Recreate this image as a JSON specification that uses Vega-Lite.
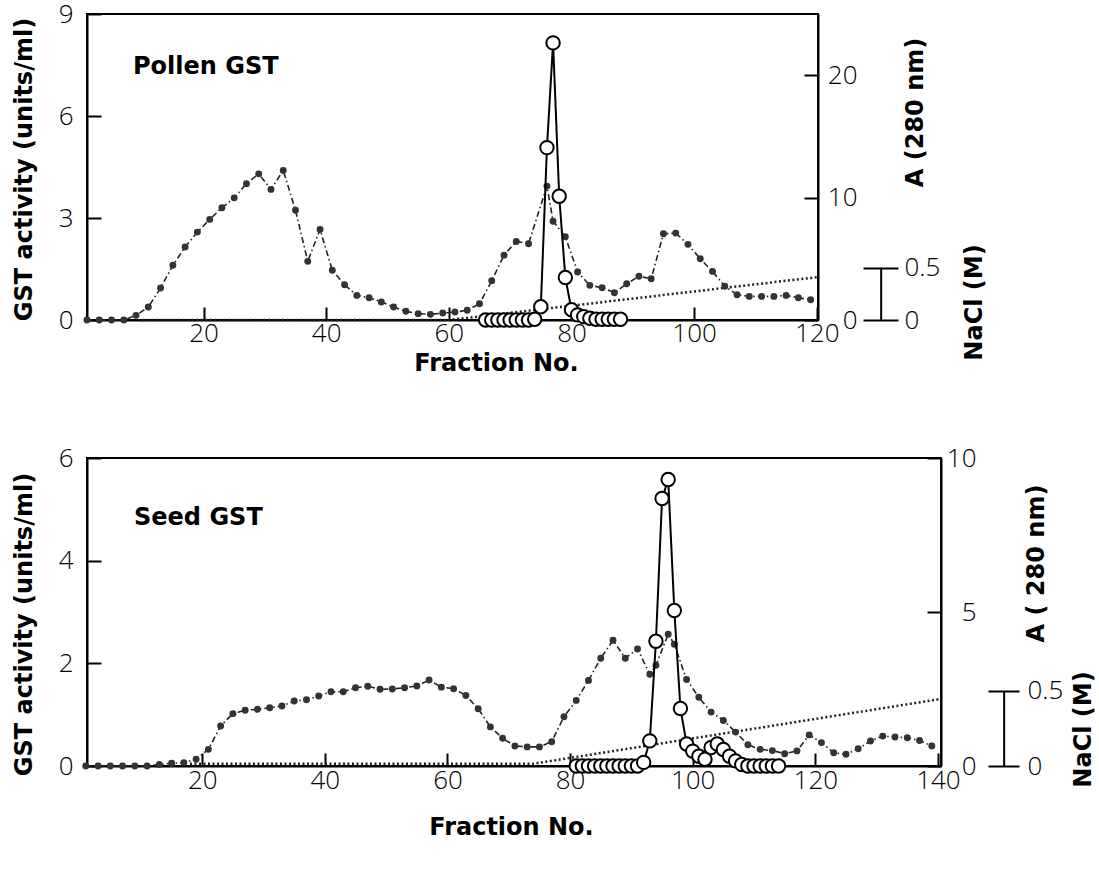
{
  "$schema": "https://vega.github.io/schema/vega-lite/v6.json",
  "background": "white",
  "padding": {"left": 10, "top": 0, "right": 0, "bottom": 0},
  "spacing": 68,
  "config": {
    "view": {"stroke": "black", "strokeWidth": 2},
    "axis": {
      "grid": false,
      "ticks": false,
      "domainColor": "black",
      "domainWidth": 2,
      "gridColor": "black",
      "gridWidth": 2,
      "gridOpacity": 1,
      "labelFont": "Open Sans",
      "labelFontWeight": 300,
      "labelFontSize": 26,
      "labelColor": "black",
      "labelFlush": false,
      "labelOverlap": false,
      "titleFont": "DejaVu Sans",
      "titleFontWeight": "bold",
      "titleFontSize": 24,
      "titleColor": "black"
    }
  },
  "datasets": {
    "pollen_a280": [
      {"fraction": 1, "a280": 0}, {"fraction": 3, "a280": 0}, {"fraction": 5, "a280": 0}, {"fraction": 7, "a280": 0},
      {"fraction": 9, "a280": 0.38}, {"fraction": 11, "a280": 1.06}, {"fraction": 13, "a280": 2.61}, {"fraction": 15, "a280": 4.47},
      {"fraction": 17, "a280": 5.96}, {"fraction": 19, "a280": 7.18}, {"fraction": 21, "a280": 8.22}, {"fraction": 23, "a280": 9.17},
      {"fraction": 25, "a280": 9.98}, {"fraction": 27, "a280": 11.13}, {"fraction": 29, "a280": 11.94}, {"fraction": 31, "a280": 10.67},
      {"fraction": 33, "a280": 12.22}, {"fraction": 35, "a280": 8.96}, {"fraction": 37, "a280": 4.79}, {"fraction": 39, "a280": 7.4},
      {"fraction": 41, "a280": 4.06}, {"fraction": 43, "a280": 2.88}, {"fraction": 45, "a280": 2.01}, {"fraction": 47, "a280": 1.82},
      {"fraction": 49, "a280": 1.47}, {"fraction": 51, "a280": 1.06}, {"fraction": 53, "a280": 0.71}, {"fraction": 55, "a280": 0.52},
      {"fraction": 57, "a280": 0.46}, {"fraction": 59, "a280": 0.57}, {"fraction": 61, "a280": 0.65}, {"fraction": 63, "a280": 0.79},
      {"fraction": 65, "a280": 1.33}, {"fraction": 67, "a280": 3.2}, {"fraction": 69, "a280": 5.3}, {"fraction": 71, "a280": 6.42},
      {"fraction": 73, "a280": 6.23}, {"fraction": 76, "a280": 10.94}, {"fraction": 77, "a280": 8.07}, {"fraction": 79, "a280": 6.8},
      {"fraction": 81, "a280": 3.92}, {"fraction": 83, "a280": 2.83}, {"fraction": 85, "a280": 2.64}, {"fraction": 87, "a280": 2.23},
      {"fraction": 89, "a280": 2.96}, {"fraction": 91, "a280": 3.57}, {"fraction": 93, "a280": 3.37}, {"fraction": 95, "a280": 7.04},
      {"fraction": 97, "a280": 7.1}, {"fraction": 99, "a280": 6.18}, {"fraction": 101, "a280": 5.0}, {"fraction": 103, "a280": 3.97},
      {"fraction": 105, "a280": 2.75}, {"fraction": 107, "a280": 2.07}, {"fraction": 109, "a280": 1.93}, {"fraction": 111, "a280": 1.93},
      {"fraction": 113, "a280": 1.93}, {"fraction": 115, "a280": 2.01}, {"fraction": 117, "a280": 1.82}, {"fraction": 119, "a280": 1.66}
    ],
    "pollen_gst": [
      {"fraction": 66, "gst": 0}, {"fraction": 67, "gst": 0}, {"fraction": 68, "gst": 0}, {"fraction": 69, "gst": 0},
      {"fraction": 70, "gst": 0}, {"fraction": 71, "gst": 0}, {"fraction": 72, "gst": 0}, {"fraction": 73, "gst": 0},
      {"fraction": 74, "gst": 0.02}, {"fraction": 75, "gst": 0.39}, {"fraction": 76, "gst": 5.07}, {"fraction": 77, "gst": 8.15},
      {"fraction": 78, "gst": 3.64}, {"fraction": 79, "gst": 1.25}, {"fraction": 80, "gst": 0.3}, {"fraction": 81, "gst": 0.15},
      {"fraction": 82, "gst": 0.1}, {"fraction": 83, "gst": 0.05}, {"fraction": 84, "gst": 0.02}, {"fraction": 85, "gst": 0.02},
      {"fraction": 86, "gst": 0.02}, {"fraction": 87, "gst": 0.02}, {"fraction": 88, "gst": 0.02}
    ],
    "pollen_nacl": [
      {"fraction": 10, "nacl": 0}, {"fraction": 60, "nacl": 0}, {"fraction": 120.2, "nacl": 0.41}
    ],
    "seed_a280": [
      {"fraction": 1, "a280": 0}, {"fraction": 3, "a280": 0}, {"fraction": 5, "a280": 0}, {"fraction": 7, "a280": 0},
      {"fraction": 9, "a280": 0}, {"fraction": 11, "a280": 0}, {"fraction": 13, "a280": 0.05}, {"fraction": 15, "a280": 0.09},
      {"fraction": 17, "a280": 0.11}, {"fraction": 19, "a280": 0.22}, {"fraction": 21, "a280": 0.54}, {"fraction": 23, "a280": 1.3},
      {"fraction": 25, "a280": 1.7}, {"fraction": 27, "a280": 1.81}, {"fraction": 29, "a280": 1.84}, {"fraction": 31, "a280": 1.89},
      {"fraction": 33, "a280": 1.95}, {"fraction": 35, "a280": 2.11}, {"fraction": 37, "a280": 2.15}, {"fraction": 39, "a280": 2.27},
      {"fraction": 41, "a280": 2.41}, {"fraction": 43, "a280": 2.41}, {"fraction": 45, "a280": 2.54}, {"fraction": 47, "a280": 2.59},
      {"fraction": 49, "a280": 2.49}, {"fraction": 51, "a280": 2.5}, {"fraction": 53, "a280": 2.54}, {"fraction": 55, "a280": 2.6},
      {"fraction": 57, "a280": 2.79}, {"fraction": 59, "a280": 2.56}, {"fraction": 61, "a280": 2.51}, {"fraction": 63, "a280": 2.29},
      {"fraction": 65, "a280": 1.86}, {"fraction": 67, "a280": 1.27}, {"fraction": 69, "a280": 0.9}, {"fraction": 71, "a280": 0.65},
      {"fraction": 73, "a280": 0.62}, {"fraction": 75, "a280": 0.62}, {"fraction": 77, "a280": 0.79}, {"fraction": 79, "a280": 1.6},
      {"fraction": 81, "a280": 2.13}, {"fraction": 83, "a280": 2.78}, {"fraction": 85, "a280": 3.5}, {"fraction": 87, "a280": 4.08},
      {"fraction": 89, "a280": 3.5}, {"fraction": 91, "a280": 3.8}, {"fraction": 93, "a280": 2.98}, {"fraction": 94, "a280": 3.27},
      {"fraction": 96, "a280": 4.28}, {"fraction": 97, "a280": 3.95}, {"fraction": 99, "a280": 2.81}, {"fraction": 101, "a280": 2.23},
      {"fraction": 103, "a280": 1.75}, {"fraction": 105, "a280": 1.48}, {"fraction": 107, "a280": 1.1}, {"fraction": 109, "a280": 0.69},
      {"fraction": 111, "a280": 0.54}, {"fraction": 113, "a280": 0.5}, {"fraction": 115, "a280": 0.4}, {"fraction": 117, "a280": 0.49},
      {"fraction": 119, "a280": 1.01}, {"fraction": 121, "a280": 0.76}, {"fraction": 123, "a280": 0.43}, {"fraction": 125, "a280": 0.38},
      {"fraction": 127, "a280": 0.56}, {"fraction": 129, "a280": 0.81}, {"fraction": 131, "a280": 0.97}, {"fraction": 133, "a280": 0.94},
      {"fraction": 135, "a280": 0.92}, {"fraction": 137, "a280": 0.83}, {"fraction": 139, "a280": 0.65}
    ],
    "seed_gst": [
      {"fraction": 81, "gst": 0}, {"fraction": 82, "gst": 0}, {"fraction": 83, "gst": 0}, {"fraction": 84, "gst": 0},
      {"fraction": 85, "gst": 0}, {"fraction": 86, "gst": 0}, {"fraction": 87, "gst": 0}, {"fraction": 88, "gst": 0},
      {"fraction": 89, "gst": 0}, {"fraction": 90, "gst": 0}, {"fraction": 91, "gst": 0}, {"fraction": 92, "gst": 0.07},
      {"fraction": 93, "gst": 0.49}, {"fraction": 94, "gst": 2.43}, {"fraction": 95, "gst": 5.21}, {"fraction": 96, "gst": 5.58},
      {"fraction": 97, "gst": 3.03}, {"fraction": 98, "gst": 1.12}, {"fraction": 99, "gst": 0.43}, {"fraction": 100, "gst": 0.29},
      {"fraction": 101, "gst": 0.19}, {"fraction": 102, "gst": 0.13}, {"fraction": 103, "gst": 0.36}, {"fraction": 104, "gst": 0.43},
      {"fraction": 105, "gst": 0.32}, {"fraction": 106, "gst": 0.19}, {"fraction": 107, "gst": 0.1}, {"fraction": 108, "gst": 0.03},
      {"fraction": 109, "gst": 0}, {"fraction": 110, "gst": 0}, {"fraction": 111, "gst": 0}, {"fraction": 112, "gst": 0},
      {"fraction": 113, "gst": 0}, {"fraction": 114, "gst": 0}
    ],
    "seed_nacl": [
      {"fraction": 18, "nacl": 0.015}, {"fraction": 74, "nacl": 0.015}, {"fraction": 140.5, "nacl": 0.447}
    ]
  },
  "vconcat": [
    {
      "width": 731,
      "height": 306,
      "resolve": {"scale": {"y": "independent"}},
      "layer": [
        {
          "layer": [
            {
              "data": {"name": "pollen_nacl"},
              "mark": {"type": "line", "strokeDash": [2, 2.5], "strokeWidth": 2.5, "color": "#222"},
              "encoding": {
                "x": {"field": "fraction", "type": "quantitative", "scale": {"domain": [1, 120.2], "nice": false},
                  "axis": {"values": [20, 40, 60, 80, 100, 120], "grid": true, "gridDash": [0, 293, 13, 2000], "labelPadding": 0, "title": "Fraction No.", "titleX": 409, "titleY": 43, "titleAlign": "center", "titleBaseline": "middle"}},
                "y": {"field": "nacl", "type": "quantitative", "scale": {"domain": [0, 2.92], "nice": false},
                  "axis": {"orient": "right", "offset": 45, "values": [0, 0.5], "format": "~g", "ticks": true, "tickSize": 35, "tickColor": "black", "tickWidth": 2, "grid": false, "domain": false, "labelPadding": 6, "labelAlign": "left", "title": "NaCl (M)", "titleX": 111, "titleY": 288, "titleAngle": 270, "titleAlign": "center", "titleBaseline": "middle"}}
              }
            },
            {
              "data": {"values": [{}]},
              "mark": {"type": "rule", "strokeWidth": 2, "color": "black"},
              "encoding": {
                "x": {"datum": 130.5, "type": "quantitative", "scale": {"domain": [1, 120.2], "nice": false},
                  "axis": {"values": [20, 40, 60, 80, 100, 120], "grid": true, "gridDash": [0, 293, 13, 2000], "labelPadding": 0, "title": "Fraction No.", "titleX": 409, "titleY": 43, "titleAlign": "center", "titleBaseline": "middle"}},
                "y": {"datum": 0, "type": "quantitative",
                  "axis": {"orient": "right", "offset": 45, "values": [0, 0.5], "format": "~g", "ticks": true, "tickSize": 35, "tickColor": "black", "tickWidth": 2, "grid": false, "domain": false, "labelPadding": 6, "labelAlign": "left", "title": "NaCl (M)", "titleX": 111, "titleY": 288, "titleAngle": 270, "titleAlign": "center", "titleBaseline": "middle"}},
                "y2": {"datum": 0.5}
              }
            }
          ]
        },
        {
          "data": {"name": "pollen_a280"},
          "encoding": {
            "x": {"field": "fraction", "type": "quantitative", "scale": {"domain": [1, 120.2], "nice": false},
              "axis": {"values": [20, 40, 60, 80, 100, 120], "grid": true, "gridDash": [0, 293, 13, 2000], "labelPadding": 0, "title": "Fraction No.", "titleX": 409, "titleY": 43, "titleAlign": "center", "titleBaseline": "middle"}},
            "y": {"field": "a280", "type": "quantitative", "scale": {"domain": [0, 25], "nice": false},
              "axis": {"orient": "right", "values": [0, 10, 20], "grid": true, "gridDash": [14, 2000], "labelAlign": "right", "labelPadding": 39, "title": "A (280 nm)", "titleX": 97, "titleY": 98, "titleAngle": 270, "titleAlign": "center", "titleBaseline": "middle"}}
          },
          "layer": [
            {"mark": {"type": "line", "strokeDash": [6, 3, 1.5, 3], "strokeWidth": 1.6, "color": "#222"}},
            {"mark": {"type": "point", "filled": true, "size": 48, "color": "#333", "opacity": 1}}
          ]
        },
        {
          "layer": [
            {
              "data": {"name": "pollen_gst"},
              "encoding": {
                "x": {"field": "fraction", "type": "quantitative", "scale": {"domain": [1, 120.2], "nice": false},
                  "axis": {"values": [20, 40, 60, 80, 100, 120], "grid": true, "gridDash": [0, 293, 13, 2000], "labelPadding": 0, "title": "Fraction No.", "titleX": 409, "titleY": 43, "titleAlign": "center", "titleBaseline": "middle"}},
                "y": {"field": "gst", "type": "quantitative", "scale": {"domain": [0, 9], "nice": false},
                  "axis": {"orient": "left", "values": [0, 3, 6, 9], "grid": true, "gridDash": [14, 2000], "labelPadding": 14, "title": "GST activity (units/ml)", "titleX": -63, "titleY": 155, "titleAngle": 270, "titleAlign": "center", "titleBaseline": "middle"}}
              },
              "layer": [
                {"mark": {"type": "line", "strokeWidth": 2, "color": "black"}},
                {"mark": {"type": "point", "filled": true, "fill": "white", "stroke": "black", "strokeWidth": 2, "size": 180, "opacity": 1}}
              ]
            },
            {
              "data": {"values": [{"label": "Pollen GST"}]},
              "mark": {"type": "text", "align": "left", "baseline": "alphabetic", "font": "DejaVu Sans", "fontWeight": "bold", "fontSize": 24, "color": "black"},
              "encoding": {
                "x": {"datum": 8.5, "type": "quantitative", "scale": {"domain": [1, 120.2], "nice": false},
                  "axis": {"values": [20, 40, 60, 80, 100, 120], "grid": true, "gridDash": [0, 293, 13, 2000], "labelPadding": 0, "title": "Fraction No.", "titleX": 409, "titleY": 43, "titleAlign": "center", "titleBaseline": "middle"}},
                "y": {"datum": 7.24, "type": "quantitative",
                  "axis": {"orient": "left", "values": [0, 3, 6, 9], "grid": true, "gridDash": [14, 2000], "labelPadding": 14, "title": "GST activity (units/ml)", "titleX": -63, "titleY": 155, "titleAngle": 270, "titleAlign": "center", "titleBaseline": "middle"}},
                "text": {"field": "label"}
              }
            }
          ]
        }
      ]
    },
    {
      "width": 854,
      "height": 308,
      "resolve": {"scale": {"y": "independent"}},
      "layer": [
        {
          "layer": [
            {
              "data": {"name": "seed_nacl"},
              "mark": {"type": "line", "strokeDash": [2, 2.5], "strokeWidth": 2.5, "color": "#222"},
              "encoding": {
                "x": {"field": "fraction", "type": "quantitative", "scale": {"domain": [1.2, 140.5], "nice": false},
                  "axis": {"values": [20, 40, 60, 80, 100, 120, 140], "grid": true, "gridDash": [0, 295, 13, 2000], "labelPadding": 1, "title": "Fraction No.", "titleX": 424, "titleY": 61, "titleAlign": "center", "titleBaseline": "middle"}},
                "y": {"field": "nacl", "type": "quantitative", "scale": {"domain": [0, 2.053], "nice": false},
                  "axis": {"orient": "right", "offset": 47, "values": [0, 0.5], "format": "~g", "ticks": true, "tickSize": 31, "tickColor": "black", "tickWidth": 2, "grid": false, "domain": false, "labelPadding": 8, "labelAlign": "left", "title": "NaCl (M)", "titleX": 95, "titleY": 271, "titleAngle": 270, "titleAlign": "center", "titleBaseline": "middle"}}
              }
            },
            {
              "data": {"values": [{}]},
              "mark": {"type": "rule", "strokeWidth": 2, "color": "black"},
              "encoding": {
                "x": {"datum": 150.8, "type": "quantitative", "scale": {"domain": [1.2, 140.5], "nice": false},
                  "axis": {"values": [20, 40, 60, 80, 100, 120, 140], "grid": true, "gridDash": [0, 295, 13, 2000], "labelPadding": 1, "title": "Fraction No.", "titleX": 424, "titleY": 61, "titleAlign": "center", "titleBaseline": "middle"}},
                "y": {"datum": 0, "type": "quantitative",
                  "axis": {"orient": "right", "offset": 47, "values": [0, 0.5], "format": "~g", "ticks": true, "tickSize": 31, "tickColor": "black", "tickWidth": 2, "grid": false, "domain": false, "labelPadding": 8, "labelAlign": "left", "title": "NaCl (M)", "titleX": 95, "titleY": 271, "titleAngle": 270, "titleAlign": "center", "titleBaseline": "middle"}},
                "y2": {"datum": 0.5}
              }
            }
          ]
        },
        {
          "data": {"name": "seed_a280"},
          "encoding": {
            "x": {"field": "fraction", "type": "quantitative", "scale": {"domain": [1.2, 140.5], "nice": false},
              "axis": {"values": [20, 40, 60, 80, 100, 120, 140], "grid": true, "gridDash": [0, 295, 13, 2000], "labelPadding": 1, "title": "Fraction No.", "titleX": 424, "titleY": 61, "titleAlign": "center", "titleBaseline": "middle"}},
            "y": {"field": "a280", "type": "quantitative", "scale": {"domain": [0, 10], "nice": false},
              "axis": {"orient": "right", "values": [0, 5, 10], "grid": true, "gridDash": [14, 2000], "labelAlign": "right", "labelPadding": 35, "title": "A ( 280 nm)", "titleX": 95, "titleY": 105, "titleAngle": 270, "titleAlign": "center", "titleBaseline": "middle"}}
          },
          "layer": [
            {"mark": {"type": "line", "strokeDash": [6, 3, 1.5, 3], "strokeWidth": 1.6, "color": "#222"}},
            {"mark": {"type": "point", "filled": true, "size": 48, "color": "#333", "opacity": 1}}
          ]
        },
        {
          "layer": [
            {
              "data": {"name": "seed_gst"},
              "encoding": {
                "x": {"field": "fraction", "type": "quantitative", "scale": {"domain": [1.2, 140.5], "nice": false},
                  "axis": {"values": [20, 40, 60, 80, 100, 120, 140], "grid": true, "gridDash": [0, 295, 13, 2000], "labelPadding": 1, "title": "Fraction No.", "titleX": 424, "titleY": 61, "titleAlign": "center", "titleBaseline": "middle"}},
                "y": {"field": "gst", "type": "quantitative", "scale": {"domain": [0, 6], "nice": false},
                  "axis": {"orient": "left", "values": [0, 2, 4, 6], "grid": true, "gridDash": [14, 2000], "labelPadding": 14, "title": "GST activity (units/ml)", "titleX": -63, "titleY": 166, "titleAngle": 270, "titleAlign": "center", "titleBaseline": "middle"}}
              },
              "layer": [
                {"mark": {"type": "line", "strokeWidth": 2, "color": "black"}},
                {"mark": {"type": "point", "filled": true, "fill": "white", "stroke": "black", "strokeWidth": 2, "size": 180, "opacity": 1}}
              ]
            },
            {
              "data": {"values": [{"label": "Seed GST"}]},
              "mark": {"type": "text", "align": "left", "baseline": "alphabetic", "font": "DejaVu Sans", "fontWeight": "bold", "fontSize": 24, "color": "black"},
              "encoding": {
                "x": {"datum": 8.87, "type": "quantitative", "scale": {"domain": [1.2, 140.5], "nice": false},
                  "axis": {"values": [20, 40, 60, 80, 100, 120, 140], "grid": true, "gridDash": [0, 295, 13, 2000], "labelPadding": 1, "title": "Fraction No.", "titleX": 424, "titleY": 61, "titleAlign": "center", "titleBaseline": "middle"}},
                "y": {"datum": 4.69, "type": "quantitative",
                  "axis": {"orient": "left", "values": [0, 2, 4, 6], "grid": true, "gridDash": [14, 2000], "labelPadding": 14, "title": "GST activity (units/ml)", "titleX": -63, "titleY": 166, "titleAngle": 270, "titleAlign": "center", "titleBaseline": "middle"}},
                "text": {"field": "label"}
              }
            }
          ]
        }
      ]
    }
  ]
}
